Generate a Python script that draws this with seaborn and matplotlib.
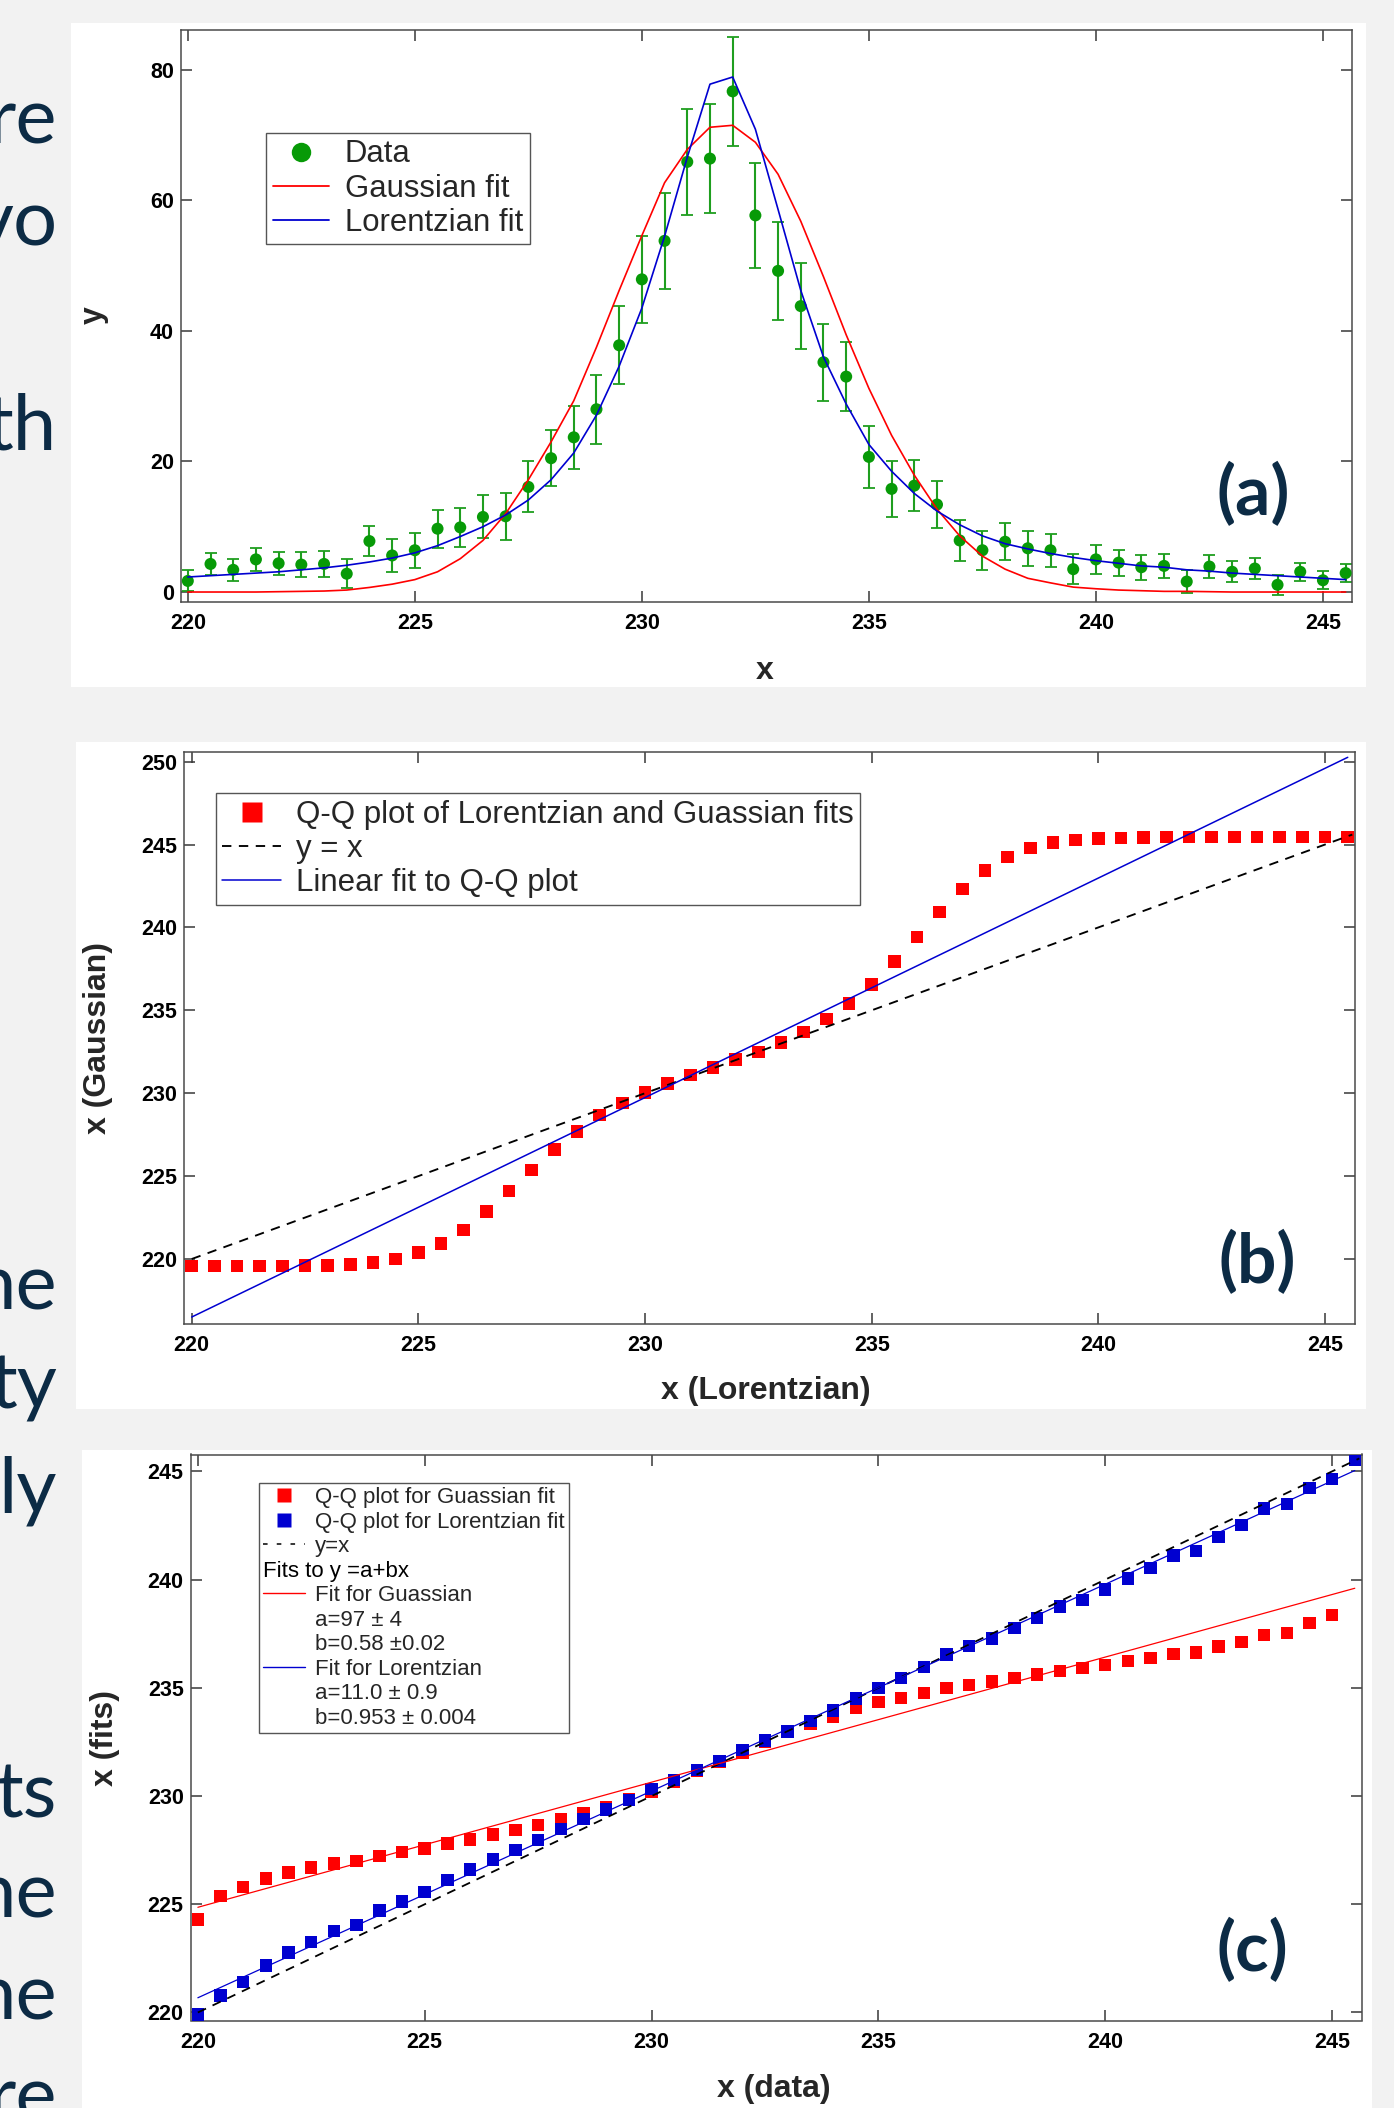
import matplotlib
matplotlib.use("Agg")
import matplotlib.pyplot as plt
import seaborn as sns
from matplotlib.lines import Line2D
from matplotlib.patches import Rectangle
from matplotlib.legend_handler import HandlerBase
from matplotlib.text import Text

W, H = 1394, 2108

# ---------------- data ----------------
# common x grid (every 0.5 from 220 to 245.5)
x_grid = [220.0, 220.5, 221.0, 221.5, 222.0, 222.5, 223.0, 223.5, 224.0, 224.5,
          225.0, 225.5, 226.0, 226.5, 227.0, 227.5, 228.0, 228.5, 229.0, 229.5,
          230.0, 230.5, 231.0, 231.5, 232.0, 232.5, 233.0, 233.5, 234.0, 234.5,
          235.0, 235.5, 236.0, 236.5, 237.0, 237.5, 238.0, 238.5, 239.0, 239.5,
          240.0, 240.5, 241.0, 241.5, 242.0, 242.5, 243.0, 243.5, 244.0, 244.5,
          245.0, 245.5]

# (a) measured counts with error bars and the two fits
y_data = [1.7, 4.3, 3.4, 5.0, 4.4, 4.2, 4.3, 2.8, 7.8, 5.6,
          6.4, 9.7, 9.9, 11.5, 11.6, 16.1, 20.5, 23.7, 28.0, 37.8,
          47.9, 53.8, 65.9, 66.4, 76.7, 57.7, 49.2, 43.8, 35.2, 33.0,
          20.7, 15.8, 16.3, 13.4, 7.9, 6.4, 7.7, 6.7, 6.4, 3.5,
          5.0, 4.5, 3.8, 4.0, 1.6, 3.9, 3.1, 3.6, 1.1, 3.1,
          1.8, 2.9]
y_err = [1.6, 1.7, 1.7, 1.8, 1.8, 1.9, 2.0, 2.2, 2.3, 2.5,
         2.7, 2.9, 3.0, 3.3, 3.6, 3.9, 4.3, 4.8, 5.3, 6.0,
         6.7, 7.4, 8.1, 8.4, 8.4, 8.0, 7.5, 6.6, 5.9, 5.3,
         4.8, 4.3, 3.9, 3.6, 3.2, 3.0, 2.8, 2.7, 2.5, 2.3,
         2.2, 2.0, 1.9, 1.9, 1.8, 1.7, 1.6, 1.6, 1.5, 1.4,
         1.4, 1.4]
gauss_fit = [0.0, 0.0, 0.0, 0.0, 0.05, 0.1, 0.15, 0.3, 0.7, 1.2,
             1.9, 3.1, 5.1, 7.9, 12.0, 17.2, 23.0, 29.3, 37.5, 46.2,
             54.6, 62.7, 67.8, 71.2, 71.5, 68.9, 64.0, 56.8, 48.3, 39.4,
             31.2, 24.0, 17.9, 12.7, 8.6, 5.5, 3.5, 2.1, 1.4, 0.75,
             0.5, 0.3, 0.2, 0.1, 0.1, 0.05, 0.0, 0.0, 0.0, 0.0,
             0.0, 0.0]
lorentz_fit = [2.3, 2.5, 2.7, 2.9, 3.1, 3.4, 3.7, 4.1, 4.6, 5.2,
               6.0, 7.1, 8.5, 10.0, 11.8, 14.1, 17.2, 21.3, 27.1, 34.6,
               43.5, 54.5, 66.6, 77.8, 78.9, 70.9, 58.6, 46.2, 36.0, 28.8,
               22.6, 18.5, 15.1, 12.4, 10.3, 8.6, 7.4, 6.6, 5.9, 5.3,
               4.8, 4.4, 4.0, 3.8, 3.4, 3.2, 2.9, 2.7, 2.5, 2.3,
               2.1, 1.9]

# (b) Q-Q of the Gaussian fit against the Lorentzian fit
qq_gauss_vs_lor = [219.57, 219.57, 219.57, 219.57, 219.57, 219.6, 219.62, 219.68, 219.78, 220.0,
                   220.38, 220.94, 221.75, 222.85, 224.09, 225.36, 226.6, 227.7, 228.68, 229.4,
                   230.05, 230.6, 231.1, 231.54, 232.02, 232.48, 233.07, 233.69, 234.47, 235.41,
                   236.57, 237.94, 239.43, 240.93, 242.31, 243.42, 244.25, 244.79, 245.11, 245.27,
                   245.35, 245.4, 245.43, 245.46, 245.46, 245.46, 245.46, 245.46, 245.46, 245.46,
                   245.46, 245.46]
yx_ends_b = [220.0, 245.6]
linfit_b_x = [220.0, 245.5]
linfit_b_y = [216.5, 250.26]

# (c) Q-Q of each fit against the data
x_c_gauss = x_grid[:-1]
qq_gauss = [224.3, 225.37, 225.79, 226.2, 226.47, 226.69, 226.88, 227.0, 227.23, 227.42,
            227.58, 227.81, 228.0, 228.22, 228.43, 228.66, 228.95, 229.21, 229.5, 229.85,
            230.2, 230.64, 231.16, 231.6, 232.0, 232.5, 232.95, 233.33, 233.68, 234.09,
            234.34, 234.52, 234.77, 235.0, 235.14, 235.29, 235.45, 235.62, 235.79, 235.91,
            236.05, 236.24, 236.38, 236.57, 236.63, 236.9, 237.11, 237.44, 237.52, 237.99,
            238.37]
qq_lorentz = [219.9, 220.79, 221.4, 222.17, 222.77, 223.26, 223.76, 224.03, 224.71, 225.12,
              225.56, 226.12, 226.61, 227.07, 227.5, 227.98, 228.49, 228.93, 229.38, 229.81,
              230.33, 230.74, 231.2, 231.61, 232.13, 232.56, 232.98, 233.47, 233.95, 234.5,
              235.0, 235.45, 235.97, 236.53, 236.92, 237.27, 237.77, 238.22, 238.76, 239.07,
              239.55, 240.06, 240.54, 241.12, 241.32, 241.98, 242.52, 243.29, 243.5, 244.22,
              244.65, 245.52]
yx_ends_c = [220.0, 245.6]
fit_c_x = [220.0, 245.5]
fit_c_gauss = [224.86, 239.6]
fit_c_lorentz = [220.68, 245.04]

x_ticks = [220, 225, 230, 235, 240, 245]
y_ticks_a = [0, 20, 40, 60, 80]
y_ticks_b = [220, 225, 230, 235, 240, 245, 250]
y_ticks_c = [220, 225, 230, 235, 240, 245]

# cut-off words of the slide text on the left
side_words = ["re", "vo", "th", "ne", "ty", "ly", "ts", "ne", "ne", "re"]
side_baselines = [143, 245, 449, 1309, 1408, 1512, 1817, 1918, 2020, 2121]

GREEN = "#079a07"
RED = "#ff0000"
BLUE = "#0000d0"
NAVY = "#0c2b45"
DASH = (0, (5, 4))


class NoteHandler(HandlerBase):
    """legend row that is only text, starting at the handle position"""
    def __init__(self, text):
        super().__init__()
        self.text = text

    def legend_artist(self, legend, orig_handle, fontsize, handlebox):
        t = Text(-handlebox.xdescent, 0, self.text, fontsize=fontsize,
                 ha="left", va="baseline", color="black")
        handlebox.add_artist(t)
        return t


def style_axes(ax, ylim, yticks, xlim=(219.84, 245.65)):
    ax.set_xlim(xlim)
    ax.set_ylim(ylim)
    ax.set_xticks(x_ticks)
    ax.set_yticks(yticks)
    ax.tick_params(direction="in", bottom=True, left=True, top=True, right=True,
                   length=8, width=1.1, color="#383838", labelcolor="black",
                   labelsize=15.5)
    ax.tick_params(axis="x", pad=8)
    ax.tick_params(axis="y", pad=5)
    for lbl in ax.get_xticklabels() + ax.get_yticklabels():
        lbl.set_fontweight("bold")
    for s in ax.spines.values():
        s.set_color("#4a4a4a")
        s.set_linewidth(1.1)
    ax.set_facecolor("white")


def fig_rect(x0, y0, x1, y1):
    return [x0 / W, 1 - y1 / H, (x1 - x0) / W, (y1 - y0) / H]


sns.set_theme(style="white")
plt.rcParams["font.family"] = ["Liberation Sans", "DejaVu Sans"]

fig = plt.figure(figsize=(W / 100, H / 100), dpi=100, facecolor="#f2f2f2")

# white panels behind each chart
for x0, y0, x1, y1 in [(71, 23, 1366, 687), (76, 742, 1366, 1409), (82, 1450, 1372, 2108)]:
    r = fig_rect(x0, y0, x1, y1)
    fig.add_artist(Rectangle((r[0], r[1]), r[2], r[3], transform=fig.transFigure,
                             facecolor="white", edgecolor="none", zorder=-10))

for word, base in zip(side_words, side_baselines):
    fig.text(57 / W, 1 - base / H, word, ha="right", va="baseline",
             fontsize=56, color=NAVY, family=["Lato", "DejaVu Sans"])

# ---------------- (a) ----------------
ax_a = fig.add_axes(fig_rect(181, 30, 1352, 602))
ax_a.errorbar(x_grid, y_data, yerr=y_err, fmt="none", ecolor="#1f9e1f",
              elinewidth=1.5, capsize=4.2, capthick=1.3, zorder=2)
sns.scatterplot(x=x_grid, y=y_data, ax=ax_a, color=GREEN, s=75,
                edgecolor="none", legend=False, zorder=3)
sns.lineplot(x=x_grid, y=gauss_fit, ax=ax_a, color=RED, lw=1.2, zorder=4)
sns.lineplot(x=x_grid, y=lorentz_fit, ax=ax_a, color=BLUE, lw=1.2, zorder=5)
style_axes(ax_a, (-1.53, 86.1), y_ticks_a, xlim=(219.85, 245.64))
ax_a.set_xlabel("x", fontsize=23, fontweight="bold", va="center")
ax_a.set_ylabel("y", fontsize=23, fontweight="bold", va="center")
ax_a.xaxis.set_label_coords(0.498, -0.1206)
ax_a.yaxis.set_label_coords(-0.0743, 0.5017)
h_a = [Line2D([], [], ls="none", marker="o", ms=14, color=GREEN, mec="none"),
       Line2D([], [], color=RED, lw=1.3),
       Line2D([], [], color=BLUE, lw=1.3)]
ax_a.legend(h_a, ["Data", "Gaussian fit", "Lorentzian fit"], loc="upper left",
            bbox_to_anchor=(0.073, 0.8206), borderaxespad=0, fontsize=22.4,
            handlelength=1.8, handletextpad=0.5, borderpad=0.22, labelspacing=0.13,
            fancybox=False, framealpha=1, edgecolor="#555555")
ax_a.get_legend().get_frame().set_linewidth(1.0)
fig.text(1253 / W, 1 - 494 / H, "(a)", ha="center", va="center", fontsize=50,
         fontweight="bold", color=NAVY, family=["Lato", "DejaVu Sans"])

# ---------------- (b) ----------------
ax_b = fig.add_axes(fig_rect(184, 752, 1355, 1324))
sns.scatterplot(x=x_grid, y=qq_gauss_vs_lor, ax=ax_b, color=RED, marker="s", s=82,
                edgecolor="none", legend=False, zorder=3)
sns.lineplot(x=yx_ends_b, y=yx_ends_b, ax=ax_b, color="black", lw=1.35,
             linestyle=DASH, zorder=4)
sns.lineplot(x=linfit_b_x, y=linfit_b_y, ax=ax_b, color=BLUE, lw=1.1, zorder=5)
style_axes(ax_b, (216.08, 250.58), y_ticks_b, xlim=(219.83, 245.66))
ax_b.set_xlabel("x (Lorentzian)", fontsize=23, fontweight="bold", va="center")
ax_b.set_ylabel("x (Gaussian)", fontsize=23, fontweight="bold", va="center")
ax_b.xaxis.set_label_coords(0.497, -0.1171)
ax_b.yaxis.set_label_coords(-0.0734, 0.5)
h_b = [Line2D([], [], ls="none", marker="s", ms=14, color=RED, mec="none"),
       Line2D([], [], color="black", lw=1.35, ls=DASH),
       Line2D([], [], color=BLUE, lw=1.1)]
ax_b.legend(h_b, ["Q-Q plot of Lorentzian and Guassian fits", "y = x",
                  "Linear fit to Q-Q plot"], loc="upper left",
            bbox_to_anchor=(0.027, 0.9283), borderaxespad=0, fontsize=22.5,
            handlelength=1.87, handletextpad=0.47, borderpad=0.22, labelspacing=0.13,
            fancybox=False, framealpha=1, edgecolor="#555555")
ax_b.get_legend().get_frame().set_linewidth(1.0)
fig.text(1257 / W, 1 - 1262 / H, "(b)", ha="center", va="center", fontsize=50,
         fontweight="bold", color=NAVY, family=["Lato", "DejaVu Sans"])

# ---------------- (c) ----------------
ax_c = fig.add_axes(fig_rect(190.6, 1454.5, 1361.6, 2020.5))
sns.scatterplot(x=x_c_gauss, y=qq_gauss, ax=ax_c, color=RED, marker="s", s=80,
                edgecolor="none", legend=False, zorder=3)
sns.scatterplot(x=x_grid, y=qq_lorentz, ax=ax_c, color=BLUE, marker="s", s=80,
                edgecolor="none", legend=False, zorder=4)
sns.lineplot(x=yx_ends_c, y=yx_ends_c, ax=ax_c, color="black", lw=1.3,
             linestyle=DASH, zorder=5)
sns.lineplot(x=fit_c_x, y=fit_c_gauss, ax=ax_c, color=RED, lw=0.9, zorder=6)
sns.lineplot(x=fit_c_x, y=fit_c_lorentz, ax=ax_c, color=BLUE, lw=0.9, zorder=6)
style_axes(ax_c, (219.63, 245.78), y_ticks_c)
ax_c.set_xlabel("x (data)", fontsize=23, fontweight="bold", va="center")
ax_c.set_ylabel("x (fits)", fontsize=23, fontweight="bold", va="center")
ax_c.xaxis.set_label_coords(0.4982, -0.121)
ax_c.yaxis.set_label_coords(-0.0731, 0.4991)
note = Line2D([], [])
blank = Line2D([], [], ls="none")
h_c = [Line2D([], [], ls="none", marker="s", ms=10, color=RED, mec="none"),
       Line2D([], [], ls="none", marker="s", ms=10, color=BLUE, mec="none"),
       Line2D([], [], color="black", lw=1.1, ls=(0, (3, 6))),
       note,
       Line2D([], [], color=RED, lw=1.0),
       blank, blank,
       Line2D([], [], color=BLUE, lw=1.0),
       blank, blank]
l_c = ["Q-Q plot for Guassian fit", "Q-Q plot for Lorentzian fit", "y=x", "",
       "Fit for Guassian", "a=97 \u00b1 4", "b=0.58 \u00b10.02",
       "Fit for Lorentzian", "a=11.0 \u00b1 0.9", "b=0.953 \u00b1 0.004"]
ax_c.legend(h_c, l_c, loc="upper left", bbox_to_anchor=(0.0584, 0.9504),
            borderaxespad=0, fontsize=16, handlelength=1.85, handletextpad=0.45,
            borderpad=0.2, labelspacing=0.16, fancybox=False, framealpha=1,
            edgecolor="#555555", handler_map={note: NoteHandler("Fits to y =a+bx")})
ax_c.get_legend().get_frame().set_linewidth(1.0)
fig.text(1252 / W, 1 - 1950 / H, "(c)", ha="center", va="center", fontsize=50,
         fontweight="bold", color=NAVY, family=["Lato", "DejaVu Sans"])

fig.savefig("out.png", dpi=100, facecolor=fig.get_facecolor())
plt.close(fig)
